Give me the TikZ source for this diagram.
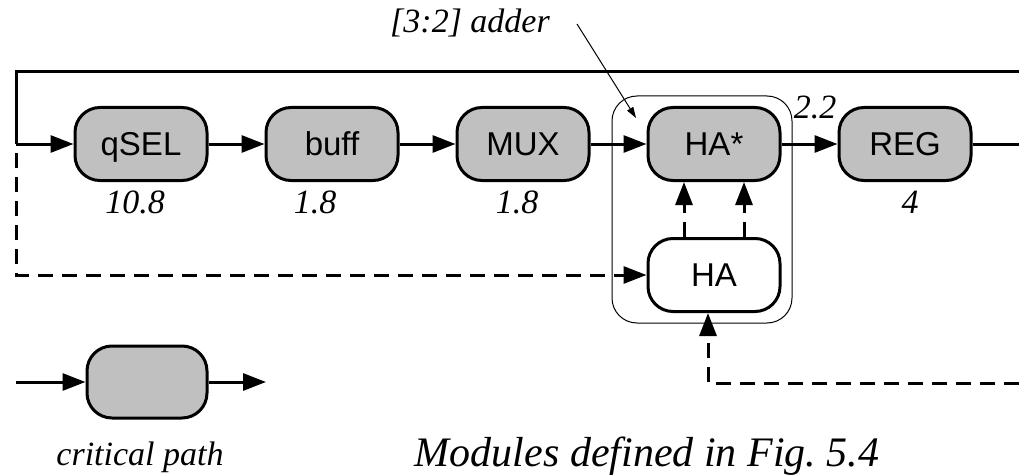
\documentclass[tikz,border=0pt]{standalone}
\usepackage{fontspec}
\setmainfont{Liberation Serif}
\setsansfont{Liberation Sans}
\usetikzlibrary{arrows.meta}
\definecolor{boxgray}{RGB}{192,192,192}
\tikzset{
  blk/.style={draw=black, line width=3pt, rounded corners=25pt, minimum width=132pt, minimum height=73pt,
    inner sep=0pt, text height=23.6pt, text depth=0pt, font=\sffamily\fontsize{33}{38}\selectfont},
  crit/.style={blk, fill=boxgray},
  conn/.style={line width=3pt, -{Triangle[length=23pt,width=17pt]}},
  plain/.style={line width=3pt},
  dashline/.style={line width=3pt, dash pattern=on 15pt off 9pt},
  dconn/.style={dashline, -{Triangle[length=23pt,width=17pt]}},
  num/.style={font=\itshape\fontsize{34}{40}\selectfont, anchor=base, inner sep=0pt},
  thinl/.style={line width=1pt},
}
\begin{document}
\begin{tikzpicture}[x=1pt,y=-1pt]
\useasboundingbox (0,0) rectangle (1019,476);
% blocks
\node[crit] (qsel) at (141,144) {qSEL};
\node[crit] (buff) at (332,144) {buff};
\node[crit] (mux) at (523,144) {MUX};
\node[crit] (hastar) at (714,144) {HA*};
\node[crit] (reg) at (905,144) {REG};
\node[blk, fill=white] (ha) at (714,275) {HA};
\node[draw, thinl, rounded corners=25pt, minimum width=180pt, minimum height=227pt, inner sep=0pt] (adder) at (702,209.5) {};
% coordinates
\coordinate (L) at (16,144);
\coordinate (T1) at (16,72);
\coordinate (T2) at (1019,72);
\coordinate (R) at (1019,144);
\coordinate (B) at (1019,383);
\coordinate (P1) at (577,24);
\coordinate (P2) at (636,118);
% connectors
\draw[plain] (T2) -- (T1) -- (L);
\draw[conn] (L) -- (qsel.west);
\draw[conn] (qsel.east) -- (buff.west);
\draw[conn] (buff.east) -- (mux.west);
\draw[conn] (mux.east) -- (hastar.west);
\draw[conn] (hastar.east) -- (reg.west);
\draw[plain] (reg.east) -- (R);
\draw[dconn, dash phase=15pt] (L) |- (ha.west);
\draw[dconn] ([xshift=-30pt]ha.north) -- ([xshift=-30pt]hastar.south);
\draw[dconn] ([xshift=30pt]ha.north) -- ([xshift=30pt]hastar.south);
\draw[dconn] (B) -| ([xshift=-6pt]ha.south);
\draw[thinl, -{Triangle[length=11pt,width=7pt]}] (P1) -- (P2);
% labels
\node[num] (l1) at (135,213) {10.8};
\node[num] (l2) at (315,213) {1.8};
\node[num] (l3) at (517,213) {1.8};
\node[num] (l4) at (910,213) {4};
\node[num] (l5) at (815,118) {2.2};
\node[num] (lad) at (470,33) {[3:2] adder};
% legend
\node[crit, minimum width=120pt, minimum height=72pt] (leg) at (147,382) {};
\coordinate (LA) at (16,382);
\coordinate (LB) at (266,382);
\draw[conn] (LA) -- (leg.west);
\draw[conn] (leg.east) -- (LB);
\node[num] (crit) at (140,465) {critical path};
\node[num, font=\itshape\fontsize{42}{48}\selectfont] (mods) at (647,466) {Modules defined in Fig.~5.4};
\end{tikzpicture}
\end{document}
